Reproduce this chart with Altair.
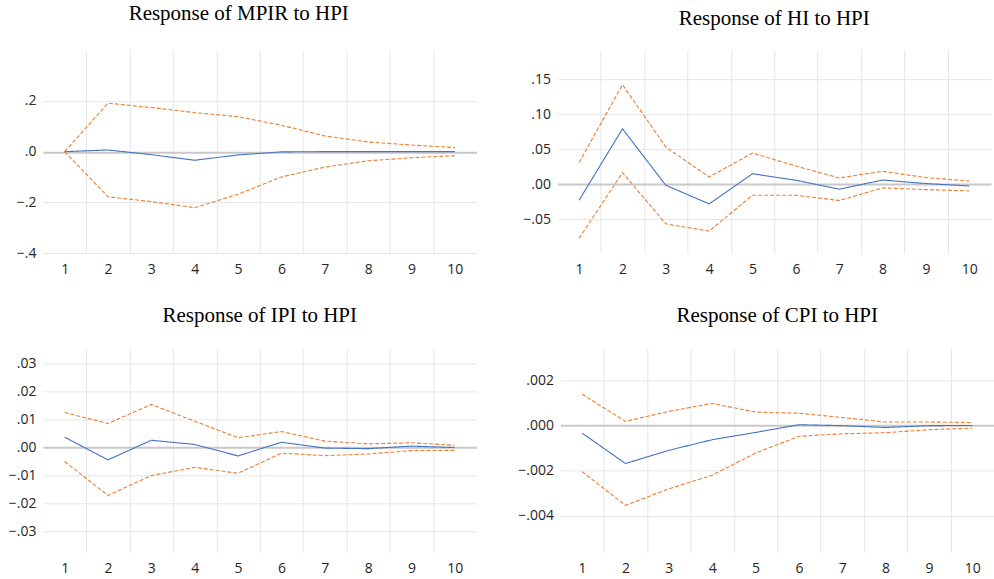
import altair as alt
import pandas as pd

periods = [1, 2, 3, 4, 5, 6, 7, 8, 9, 10]

titles = ["Response of MPIR to HPI", "Response of HI to HPI",
          "Response of IPI to HPI", "Response of CPI to HPI"]

# MPIR
mpir_resp = [0.0, 0.0066, -0.012, -0.034, -0.013, -0.001, 0.0, 0.0, 0.0, 0.0]
mpir_up = [0.0, 0.191, 0.174, 0.154, 0.138, 0.104, 0.062, 0.038, 0.026, 0.016]
mpir_lo = [0.0, -0.178, -0.197, -0.221, -0.168, -0.100, -0.061, -0.036, -0.024, -0.016]

# HI
hi_resp = [-0.0227, 0.079, -0.0014, -0.028, 0.015, 0.0057, -0.007, 0.006, 0.001, -0.0024]
hi_up = [0.031, 0.142, 0.053, 0.0104, 0.0445, 0.026, 0.009, 0.0185, 0.0095, 0.0047]
hi_lo = [-0.077, 0.0166, -0.0564, -0.0668, -0.0156, -0.0156, -0.0232, -0.0052, -0.0076, -0.0095]

# IPI
ipi_resp = [0.0037, -0.0044, 0.0026, 0.0011, -0.003, 0.0019, -0.0002, -0.0004, 0.0005, 0.0]
ipi_up = [0.0125, 0.0086, 0.0154, 0.0094, 0.0035, 0.0057, 0.0023, 0.0013, 0.0017, 0.0008]
ipi_lo = [-0.005, -0.0171, -0.010, -0.0071, -0.0092, -0.002, -0.0029, -0.0023, -0.0011, -0.001]

# CPI
cpi_resp = [-0.00034, -0.00168, -0.0011, -0.00063, -0.00031, 0.00003, -0.00001, -0.00009, -0.00001, 0.0]
cpi_up = [0.00138, 0.00018, 0.00062, 0.00097, 0.00059, 0.00054, 0.00035, 0.00015, 0.00015, 0.00013]
cpi_lo = [-0.00204, -0.00353, -0.0028, -0.0022, -0.00122, -0.00048, -0.00037, -0.00032, -0.00019, -0.00012]

y_ticks = [
    [-0.4, -0.2, 0.0, 0.2],
    [-0.05, 0.0, 0.05, 0.10, 0.15],
    [-0.03, -0.02, -0.01, 0.0, 0.01, 0.02, 0.03],
    [-0.004, -0.002, 0.0, 0.002],
]
y_domains = [
    [-0.4, 0.4],
    [-0.098, 0.191],
    [-0.0374, 0.0354],
    [-0.0056, 0.0034],
]
y_formats = [".1f", ".2f", ".2f", ".3f"]

series_sets = [
    (mpir_resp, mpir_up, mpir_lo),
    (hi_resp, hi_up, hi_lo),
    (ipi_resp, ipi_up, ipi_lo),
    (cpi_resp, cpi_up, cpi_lo),
]

title_offsets = [9, 4, 5, 5]
title_dx = [-21, 0, 0, 0]
heights = [203, 203, 204, 204]

BAND = 434 / 10.0
LABEL_FONT = "Open Sans"
TITLE_FONT = "Liberation Serif"


def panel(i):
    resp, up, lo = series_sets[i]
    rows = []
    for name, vals in (("resp", resp), ("upper", up), ("lower", lo)):
        for p, v in zip(periods, vals):
            rows.append({"period": p, "value": v, "series": name})
    df = pd.DataFrame(rows)
    fmt = y_formats[i]
    return (
        alt.Chart(df)
        .mark_line(strokeWidth=1.1)
        .encode(
            x=alt.X(
                "period:Q",
                scale=alt.Scale(domain=[0.5, 10.5], nice=False, zero=False),
                axis=alt.Axis(
                    title=None,
                    values=periods,
                    tickOffset=BAND / 2,
                    labelOffset=-BAND / 2,
                    labelFlush=False,
                    labelOverlap=False,
                    grid=True,
                    gridColor="#e6e6e6",
                    gridOpacity={"condition": {"test": "datum.value === 10", "value": 0}, "value": 1},
                    domain=False,
                    ticks=False,
                    labelPadding=9,
                    labelFont=LABEL_FONT,
                    labelFontSize=14,
                    labelColor="#262626",
                ),
            ),
            y=alt.Y(
                "value:Q",
                scale=alt.Scale(domain=y_domains[i], nice=False, zero=False),
                axis=alt.Axis(
                    title=None,
                    values=y_ticks[i],
                    labelExpr=f"replace(format(datum.value, '{fmt}'), '0.', '.')",
                    grid=True,
                    gridColor={"condition": {"test": "datum.value === 0", "value": "#c8c8c8"}, "value": "#e6e6e6"},
                    gridWidth={"condition": {"test": "datum.value === 0", "value": 2}, "value": 1},
                    domain=False,
                    ticks=False,
                    labelPadding=7,
                    labelFont=LABEL_FONT,
                    labelFontSize=14,
                    labelColor="#262626",
                    minExtent=40,
                    maxExtent=40,
                ),
            ),
            color=alt.Color(
                "series:N",
                scale=alt.Scale(domain=["resp", "upper", "lower"],
                                range=["#4472C4", "#ED7D31", "#ED7D31"]),
                legend=None,
            ),
            strokeDash=alt.StrokeDash(
                "series:N",
                scale=alt.Scale(domain=["resp", "upper", "lower"],
                                range=[[1, 0], [4, 2], [4, 2]]),
                legend=None,
            ),
            detail="series:N",
        )
        .properties(
            width=434,
            height=heights[i],
            title=alt.TitleParams(
                text=titles[i],
                font=TITLE_FONT,
                fontSize=21,
                fontWeight="normal",
                color="#000000",
                anchor="middle",
                frame="group",
                baseline="alphabetic",
                offset=title_offsets[i],
                dx=title_dx[i],
            ),
        )
    )


top = alt.hconcat(panel(0), panel(1), spacing=41)
bottom = alt.hconcat(panel(2), panel(3), spacing=41)
chart = (
    alt.vconcat(top, bottom, spacing=29.5)
    .configure(padding={"left": 3, "top": 3, "right": 0, "bottom": 0}, background="white")
    .configure_view(stroke=None)
)

chart.save("out.html", embed_options={"renderer": "svg", "actions": False})
